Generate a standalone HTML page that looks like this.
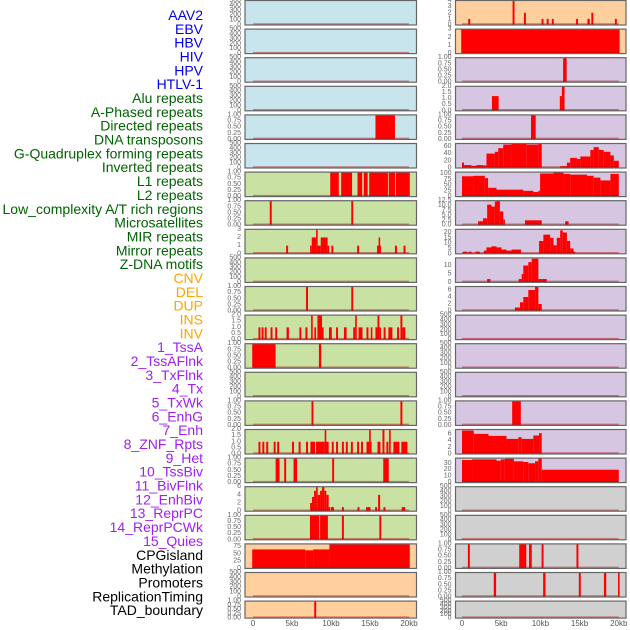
<!DOCTYPE html>
<html><head><meta charset="utf-8"><style>
html,body{margin:0;padding:0;background:#fff;}
svg{display:block;font-family:"Liberation Sans",sans-serif;}
</style></head><body>
<svg id="chart" width="630" height="630" viewBox="0 0 630 630" xmlns="http://www.w3.org/2000/svg"></svg>
<script>
const NS="http://www.w3.org/2000/svg";
const svg=document.getElementById('chart');

const trackLabels=["AAV2","EBV","HBV","HIV","HPV","HTLV-1","Alu repeats","A-Phased repeats","Directed repeats","DNA transposons","G-Quadruplex forming repeats","Inverted repeats","L1 repeats","L2 repeats","Low_complexity A/T rich regions","Microsatellites","MIR repeats","Mirror repeats","Z-DNA motifs","CNV","DEL","DUP","INS","INV","1_TssA","2_TssAFlnk","3_TxFlnk","4_Tx","5_TxWk","6_EnhG","7_Enh","8_ZNF_Rpts","9_Het","10_TssBiv","11_BivFlnk","12_EnhBiv","13_ReprPC","14_ReprPCWk","15_Quies","CPGisland","Methylation","Promoters","ReplicationTiming","TAD_boundary"];
const labelColors=["#0000ee","#0000ee","#0000ee","#0000ee","#0000ee","#0000ee","#006400","#006400","#006400","#006400","#006400","#006400","#006400","#006400","#006400","#006400","#006400","#006400","#006400","#ffa500","#ffa500","#ffa500","#ffa500","#ffa500","#a020f0","#a020f0","#a020f0","#a020f0","#a020f0","#a020f0","#a020f0","#a020f0","#a020f0","#a020f0","#a020f0","#a020f0","#a020f0","#a020f0","#a020f0","#000","#000","#000","#000","#000"];

const BLANK=["0","100","200","300","400","500"];
const UNIT=["0.00","0.25","0.50","0.75","1.00"];

// left column panels
const leftBg=["#c8e4ec","#c8e4ec","#c8e4ec","#c8e4ec","#c8e4ec","#c8e4ec","#c9e2a4","#c9e2a4","#c9e2a4","#c9e2a4","#c9e2a4","#c9e2a4","#c9e2a4","#c9e2a4","#c9e2a4","#c9e2a4","#c9e2a4","#c9e2a4","#c9e2a4","#ffd09e","#ffd09e","#ffd09e"];
const leftTicks=[BLANK,BLANK,BLANK,BLANK,UNIT,BLANK,UNIT,UNIT,["0","1","2","3"],BLANK,UNIT,["0.0","0.5","1.0","1.5","2.0"],UNIT,BLANK,UNIT,["0.0","0.5","1.0","1.5","2.0"],UNIT,["0","2","4","6"],UNIT,["0","25","50","75"],BLANK,UNIT];
const leftMax=[500,500,500,500,1,500,1,1,3,500,1,2,1,500,1,2,1,6,1,84,500,1];
const leftBars=[
[],[],[],[],
[[15.7,18.2,1]],
[],
[[9.9,11.0,1],[11.3,12.7,1],[13.4,14.0,1],[14.2,14.7,1],[14.9,17.3,1],[17.4,18.2,1],[18.3,20.1,1]],
[[2.15,2.4,1],[12.6,12.85,1]],
[[4.25,4.5,1],[7.32,7.53,1],[7.53,8.09,2],[8.09,8.26,3],[8.26,8.68,1],[8.68,9.57,2],[9.57,9.74,1],[10.05,10.3,1],[13.35,13.6,1],[15.9,16.1,1],[16.1,16.2,2],[16.2,16.34,1],[18.2,18.45,1],[19.3,19.55,1]],
[],
[[6.8,7.05,1],[12.6,12.85,1]],
[[0.7,0.95,1],[1.1,1.35,1],[1.5,1.75,1],[2.25,2.5,1],[2.85,3.1,1],[4.3,4.6,1],[5.95,6.2,1],[6.72,6.98,1],[7.45,7.65,2],[7.87,8.09,1],[8.26,8.85,2],[8.85,9.02,1],[9.74,10.1,1],[10.65,10.9,1],[11.66,12.0,1],[12.85,13.1,1],[13.1,13.3,2],[13.53,14.04,1],[14.55,14.8,1],[15.1,15.3,1],[15.7,15.96,1],[15.96,16.2,2],[16.2,16.34,1],[16.75,17.0,1],[17.36,17.87,1],[18.47,18.72,1],[18.9,19.15,2],[19.15,19.53,1]],
[[-0.1,2.9,1],[8.45,8.75,1]],
[],
[[7.5,7.75,1],[18.9,19.15,1]],
[[0.7,0.95,1],[1.2,1.45,1],[1.7,1.95,1],[2.65,2.9,1],[3.1,3.35,1],[5.0,5.25,1],[5.85,6.1,1],[6.8,7.05,1],[7.36,7.96,1],[8.09,9.19,1],[9.19,9.35,2],[9.35,9.7,1],[10.1,10.35,1],[10.65,10.9,1],[11.4,11.65,1],[11.9,12.15,1],[12.55,12.8,1],[13.35,13.6,1],[13.85,14.1,1],[14.55,14.89,1],[14.89,15.0,2],[15.0,15.06,1],[15.96,16.34,1],[16.6,16.85,2],[17.1,17.36,1],[17.45,17.65,2],[18.0,18.77,1],[19.02,19.79,1]],
[[2.9,3.4,1],[4.0,4.25,1],[5.2,5.65,1],[10.15,10.4,1],[16.7,17.4,1]],
[[7.32,7.57,2],[7.57,7.83,3.5],[7.83,8.09,5],[8.09,8.3,6],[8.3,8.6,4],[8.6,8.85,5],[8.85,9.15,6],[9.15,9.4,5],[9.4,9.7,4],[9.7,9.87,1],[10.0,10.38,1],[11.4,11.65,1],[13.4,13.65,1],[14.5,15.06,1],[15.66,15.9,1],[16.04,16.3,4],[16.72,16.98,1],[19.06,19.53,1]],
[[7.3,8.5,1],[8.6,9.6,1],[11.4,11.65,1],[16.2,16.45,1]],
[[-0.1,6.7,65],[6.7,7.7,62],[7.7,9.8,65],[9.8,20.1,84]],
[],
[[7.85,8.1,1]]
];

// right column panels
const rightBg=["#ffd09e","#ffd09e","#d6c6e2","#d6c6e2","#d6c6e2","#d6c6e2","#d6c6e2","#d6c6e2","#d6c6e2","#d6c6e2","#d6c6e2","#d6c6e2","#d6c6e2","#d6c6e2","#d6c6e2","#d6c6e2","#d6c6e2","#d0d0d0","#d0d0d0","#d0d0d0","#d0d0d0","#d0d0d0"];
const rightTicks=[["0","1","2","3","4"],["0","1","2","3"],UNIT,["0.0","0.5","1.0","1.5","2.0"],UNIT,["0","20","40","60"],["0","25","50","75","100"],["0.0","2.5","5.0","7.5","10.0","12.5"],["0","5","10","15","20"],["0","5","10"],["0","2","4","6"],BLANK,BLANK,BLANK,UNIT,["0","2","4","6"],["0","10","20","30"],BLANK,BLANK,UNIT,UNIT,BLANK];
const rightMax=[4,3,1,2,1,68,106,12.5,23,14.5,7,500,500,500,1,7.3,38,500,500,1,1,500];
const rightBars=[
[[0.8,1.05,1],[6.45,6.7,4],[7.9,8.15,2],[10.15,10.4,1],[10.8,11.05,1],[11.45,11.7,1],[14.55,14.8,1],[16.0,16.3,1],[16.5,16.75,2],[19.5,19.75,1]],
[[-0.1,20.1,3]],
[[12.9,13.35,1]],
[[3.82,4.67,1.2],[12.48,12.74,1.2],[12.74,13.08,2]],
[[8.8,9.4,1]],
[[0,0.26,15],[0.26,1.2,8],[1.2,1.84,6],[1.84,2.69,8],[2.69,3.12,7],[3.12,4.19,40],[4.19,4.62,45],[4.62,5.26,55],[5.26,6.32,65],[6.32,8.25,68],[8.25,9.74,65],[9.74,10.17,68],[12.52,13.38,5],[13.38,13.8,15],[13.8,14.66,28],[14.66,15.09,25],[15.09,16.37,32],[16.37,16.79,50],[16.79,17.44,58],[17.44,18.08,50],[18.08,18.93,45],[18.93,19.36,35],[19.36,20,20]],
[[0,1.41,88],[1.41,2.91,90],[2.91,3.33,80],[3.33,4.4,38],[4.4,7.82,30],[7.82,9.1,25],[9.1,9.74,20],[9.74,9.96,25],[9.96,11.67,100],[11.67,12.95,105],[12.95,13.8,98],[13.8,15.94,95],[15.94,16.79,90],[16.79,17.65,82],[17.65,18.93,70],[18.93,20,98]],
[[2.05,2.69,2],[2.69,3.21,3.5],[3.21,3.76,10.5],[3.76,4.19,9.5],[4.19,4.4,12],[4.4,4.83,12.5],[4.83,5.26,7],[5.26,5.47,3],[8.03,10.17,2.5],[13.16,13.59,2]],
[[0.13,0.68,2],[0.85,1.2,2],[1.71,2.26,2],[2.78,3.12,3],[3.12,3.76,6],[3.76,4.4,7],[4.4,5.04,6],[5.04,5.68,4],[5.68,6.32,3],[6.32,7.52,4],[9.83,10.38,12],[10.38,11.24,18],[11.24,11.67,15],[11.67,12.09,8],[12.09,12.52,15],[12.52,12.86,22],[12.86,13.38,20],[13.38,13.8,12],[13.8,14.23,5],[14.23,14.44,2]],
[[3.21,3.63,2],[7.22,7.61,2],[7.61,7.82,5],[7.82,8.46,10],[8.46,8.89,12],[8.89,9.74,14],[9.74,10.17,2],[10.17,10.81,2]],
[[6.75,7.39,1],[7.39,7.82,2.5],[7.82,8.46,4],[8.46,9.32,6],[9.32,9.74,7],[9.74,10.17,2]],
[],[],[],
[[6.4,7.5,1]],
[[0,1.5,7],[1.5,3.38,6],[3.38,5.68,5.4],[5.68,7.18,4.5],[7.18,7.61,5],[7.61,9.1,4.5],[9.1,9.83,5.5],[9.83,10.17,6.2]],
[[0,1.28,35],[1.28,4.4,36],[4.4,4.96,34],[4.96,5.47,36],[5.47,6.62,37],[6.62,7.82,33],[7.82,8.46,32],[8.46,9.32,30],[9.32,9.74,33],[9.74,10.17,38],[10.17,20,20]],
[],[],
[[0.75,1.0,1],[7.3,8.2,1],[8.55,8.9,1],[10.15,10.4,1],[14.6,14.85,1]],
[[4.05,4.35,1],[10.35,10.65,1],[14.9,15.15,1],[18.1,18.4,1],[19.9,20.1,1]],
[]
];
const xTickLabels=["0","5kb","10kb","15kb","20kb"];
const xTickValues=[0,5,10,15,20];

function mk(tag,attrs){const e=document.createElementNS(NS,tag);for(const k in attrs)e.setAttribute(k,attrs[k]);return e;}

// label column
trackLabels.forEach((t,i)=>{
  const e=mk('text',{x:203,y:15+i*13.84,'text-anchor':'end','dominant-baseline':'central','font-size':'14',fill:labelColors[i]});
  
  
  e.textContent=t; svg.appendChild(e);
});

const cols=[
 {x0:245,x1:416.5,ox:253,sc:7.8,bg:leftBg,ticks:leftTicks,max:leftMax,bars:leftBars,name:'left'},
 {x0:455.5,x1:626,ox:462,sc:7.84,bg:rightBg,ticks:rightTicks,max:rightMax,bars:rightBars,name:'right'}
];
cols.forEach(c=>{
  const xs=kb=>c.ox+kb*c.sc;
  for(let i=0;i<22;i++){
    const top=i*28.6+0.5, h=(i==21)?17:24.5;
    const ys=v=>top+h-v/c.max[i]*h;
    const g=mk('g',{});
    
    
    g.appendChild(mk('rect',{x:c.x0,y:top,width:c.x1-c.x0,height:h,fill:c.bg[i]}));
    c.bars[i].forEach(b=>{
      const x1=Math.max(xs(b[0]),c.x0), x2=Math.min(xs(b[1]),c.x1);
      const r=mk('rect',{x:x1,y:ys(b[2]),width:Math.max(x2-x1,1.6),height:top+h-ys(b[2]),fill:'#ff0000'});
      
      
      g.appendChild(r);
    });
    const bl=mk('line',{x1:xs(0),x2:xs(20),y1:top+h-1,y2:top+h-1,stroke:'rgba(170,0,0,0.45)','stroke-width':1.5});
    
    
    g.appendChild(bl);
    g.appendChild(mk('rect',{x:c.x0,y:top,width:c.x1-c.x0,height:h,fill:'none',stroke:'#666','stroke-width':1.2}));
    c.ticks[i].forEach(t=>{
      const e=mk('text',{x:c.x0-4,y:ys(parseFloat(t)),'text-anchor':'end','dominant-baseline':'central','font-size':'7',fill:'#666'});
      
      
      e.textContent=t; g.appendChild(e);
    });
    svg.appendChild(g);
  }
  xTickValues.forEach((v,k)=>{
    const e=mk('text',{x:xs(v),y:626,'text-anchor':'middle','font-size':'8',fill:'#555'});
    
    
    e.textContent=xTickLabels[k]; svg.appendChild(e);
  });
});
</script>
</body></html>
